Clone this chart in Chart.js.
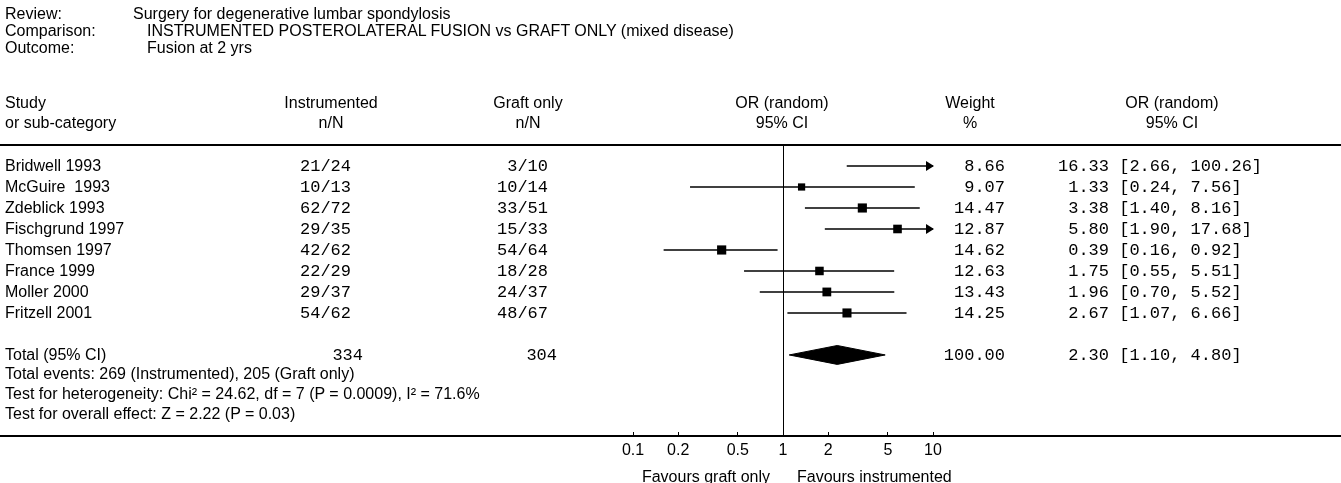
<!DOCTYPE html>
<html>
<head>
<meta charset="utf-8">
<script src="https://cdn.jsdelivr.net/npm/chart.js@4"></script>
<style>
  body { margin: 0; background: #fff; }
  #wrap { position: relative; width: 1341px; height: 483px; overflow: hidden; }
  #c { position: absolute; left: 0; top: 0; }
  .t { position: absolute; white-space: pre; font: 16px "Liberation Sans", Arial, sans-serif; color: #000; line-height: 18px; height: 18px; }
  .m { font: 17px "Liberation Mono", "Courier New", monospace; }
</style>
</head>
<body>
<div id="wrap">
  <canvas id="c" width="1341" height="483"></canvas>
</div>
<script>
// study rows
var studies = ['Bridwell 1993', 'McGuire  1993', 'Zdeblick 1993', 'Fischgrund 1997', 'Thomsen 1997', 'France 1999', 'Moller 2000', 'Fritzell 2001'];
var instrumented = ['21/24', '10/13', '62/72', '29/35', '42/62', '22/29', '29/37', '54/62'];
var graftOnly = ['3/10', '10/14', '33/51', '15/33', '54/64', '18/28', '24/37', '48/67'];
var orValues = [16.33, 1.33, 3.38, 5.80, 0.39, 1.75, 1.96, 2.67];
var ciLow = [2.66, 0.24, 1.40, 1.90, 0.16, 0.55, 0.70, 1.07];
var ciHigh = [100.26, 7.56, 8.16, 17.68, 0.92, 5.51, 5.52, 6.66];
var weights = [8.66, 9.07, 14.47, 12.87, 14.62, 12.63, 13.43, 14.25];

// pooled result
var totalRow = 9;
var totalN = [334, 304];
var totalOR = 2.30;
var totalLow = 1.10;
var totalHigh = 4.80;
var totalWeight = 100.00;

var xTicks = [0.1, 0.2, 0.5, 1, 2, 5, 10];

var wrap = document.getElementById('wrap');

function put(text, x, y, align, mono) {
  var d = document.createElement('div');
  d.className = mono ? 't m' : 't';
  d.textContent = text;
  if (align == 'right') {
    d.style.left = (x - 500) + 'px';
    d.style.width = '500px';
    d.style.textAlign = 'right';
  } else if (align == 'center') {
    d.style.left = (x - 250) + 'px';
    d.style.width = '500px';
    d.style.textAlign = 'center';
  } else {
    d.style.left = x + 'px';
  }
  d.style.top = (y - 9) + 'px';
  wrap.appendChild(d);
}

function orText(v, l, h) {
  var s = v.toFixed(2);
  while (s.length < 5) s = ' ' + s;
  return s + ' [' + l.toFixed(2) + ', ' + h.toFixed(2) + ']';
}

// header
put('Review:', 5, 14);
put('Comparison:', 5, 31);
put('Outcome:', 5, 48);
put('Surgery for degenerative lumbar spondylosis', 133, 14);
put('INSTRUMENTED POSTEROLATERAL FUSION vs GRAFT ONLY (mixed disease)', 147, 31);
put('Fusion at 2 yrs', 147, 48);

put('Study', 5, 103);
put('or sub-category', 5, 123);
put('Instrumented', 331, 103, 'center');
put('n/N', 331, 123, 'center');
put('Graft only', 528, 103, 'center');
put('n/N', 528, 123, 'center');
put('OR (random)', 782, 103, 'center');
put('95% CI', 782, 123, 'center');
put('Weight', 970, 103, 'center');
put('%', 970, 123, 'center');
put('OR (random)', 1172, 103, 'center');
put('95% CI', 1172, 123, 'center');

var squares = [];
var datasets = [];
for (var i = 0; i < studies.length; i++) {
  if (orValues[i] <= 10) {
    squares.push({ x: orValues[i], y: i, r: 2.4 * Math.sqrt(weights[i]) / Math.SQRT2 });
  }
  datasets.push({
    type: 'line',
    data: [{ x: ciLow[i], y: i }, { x: ciHigh[i], y: i }],
    borderColor: '#000',
    borderWidth: 1.5,
    pointRadius: 0,
    fill: false
  });
}

datasets.push({
  type: 'scatter',
  data: squares,
  pointStyle: 'rect',
  pointRadius: squares.map(function (p) { return p.r; }),
  backgroundColor: '#000',
  borderColor: '#000',
  borderWidth: 0
});

datasets.push({
  type: 'line',
  data: [
    { x: totalLow, y: totalRow },
    { x: totalOR, y: totalRow - 0.45 },
    { x: totalHigh, y: totalRow },
    { x: totalOR, y: totalRow + 0.45 },
    { x: totalLow, y: totalRow }
  ],
  borderColor: '#000',
  borderWidth: 1,
  backgroundColor: '#000',
  pointRadius: 0,
  fill: 'shape'
});

var linesPlugin = {
  id: 'forestLines',
  afterDraw: function (chart) {
    var ctx = chart.ctx;
    var area = chart.chartArea;
    var xs = chart.scales.x;
    var axisY = area.bottom + 4;
    ctx.save();
    ctx.strokeStyle = '#000';
    ctx.fillStyle = '#000';
    ctx.lineWidth = 2;
    ctx.beginPath();
    ctx.moveTo(0, area.top);
    ctx.lineTo(chart.width, area.top);
    ctx.moveTo(0, axisY);
    ctx.lineTo(chart.width, axisY);
    ctx.stroke();
    var x1 = Math.round(xs.getPixelForValue(1)) + 0.5;
    ctx.lineWidth = 1;
    ctx.beginPath();
    ctx.moveTo(x1, area.top);
    ctx.lineTo(x1, axisY);
    ctx.stroke();
    // arrows for intervals running past the axis
    for (var i = 0; i < studies.length; i++) {
      if (ciHigh[i] > xs.max) {
        var tx = xs.getPixelForValue(xs.max);
        var ty = chart.scales.y.getPixelForValue(i);
        ctx.beginPath();
        ctx.moveTo(tx + 1, ty);
        ctx.lineTo(tx - 7, ty - 5);
        ctx.lineTo(tx - 7, ty + 5);
        ctx.closePath();
        ctx.fill();
      }
    }
    ctx.restore();
  }
};

new Chart(document.getElementById('c'), {
  type: 'scatter',
  data: { datasets: datasets },
  options: {
    responsive: false,
    devicePixelRatio: 1,
    animation: false,
    layout: { padding: { left: 633, right: 408, top: 145, bottom: 0 } },
    plugins: { legend: { display: false }, tooltip: { enabled: false } },
    scales: {
      x: {
        type: 'logarithmic',
        min: 0.1,
        max: 10,
        afterBuildTicks: function (s) { s.ticks = xTicks.map(function (v) { return { value: v }; }); },
        afterFit: function (s) { s.height = 51; },
        grid: { drawOnChartArea: false, drawTicks: true, tickLength: 4, color: '#000', lineWidth: 1 },
        border: { display: false },
        ticks: {
          autoSkip: false,
          maxRotation: 0,
          padding: 5,
          color: '#000',
          font: { family: 'Liberation Sans', size: 16 },
          callback: function (v) { return String(v); }
        }
      },
      y: {
        display: false,
        reverse: true,
        min: -1,
        max: 12.67
      }
    }
  },
  plugins: [linesPlugin]
});

// table text
for (var i = 0; i < studies.length; i++) {
  var y = 166 + 21 * i;
  put(studies[i], 5, y);
  put(instrumented[i], 351, y, 'right', true);
  put(graftOnly[i], 548, y, 'right', true);
  put(weights[i].toFixed(2), 1005, y, 'right', true);
  put(orText(orValues[i], ciLow[i], ciHigh[i]), 1058, y, 'left', true);
}
var ty = 166 + 21 * totalRow;
put('Total (95% CI)', 5, ty);
put(String(totalN[0]), 363, ty, 'right', true);
put(String(totalN[1]), 557, ty, 'right', true);
put(totalWeight.toFixed(2), 1005, ty, 'right', true);
put(orText(totalOR, totalLow, totalHigh), 1058, ty, 'left', true);
put('Total events: 269 (Instrumented), 205 (Graft only)', 5, 374);
put('Test for heterogeneity: Chi\u00b2 = 24.62, df = 7 (P = 0.0009), I\u00b2 = 71.6%', 5, 394);
put('Test for overall effect: Z = 2.22 (P = 0.03)', 5, 414);

put('Favours graft only', 770, 477, 'right');
put('Favours instrumented', 797, 477, 'left');
</script>
</body>
</html>
